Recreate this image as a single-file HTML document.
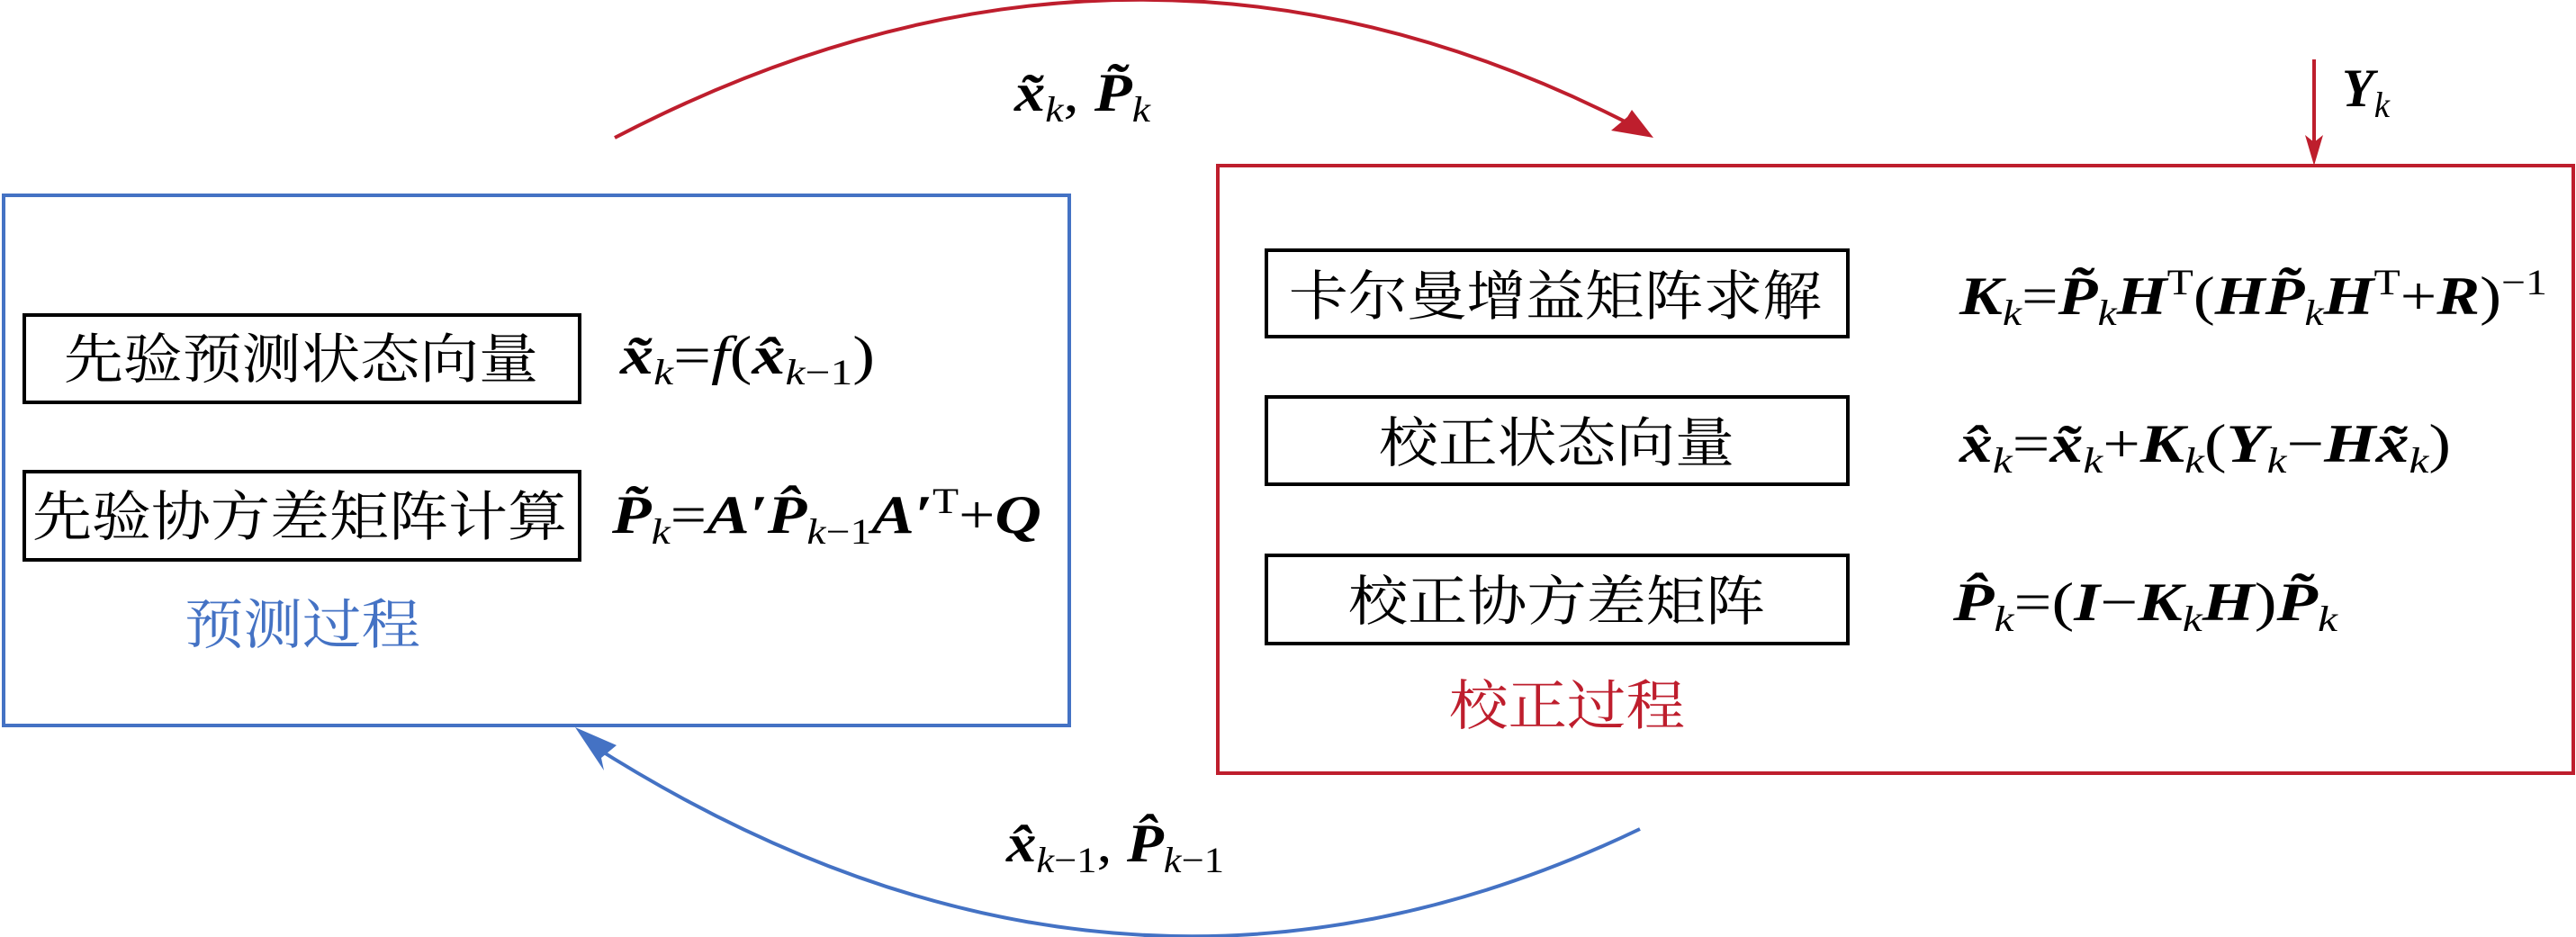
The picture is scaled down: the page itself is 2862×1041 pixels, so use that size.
<!DOCTYPE html>
<html><head><meta charset="utf-8"><style>
html,body{margin:0;padding:0;background:#fff;}
svg{display:block;}
.cn{font-family:"Liberation Serif","Noto Serif CJK SC",serif;font-size:60px;}
.m{font-family:"Liberation Serif","Noto Serif CJK SC",serif;font-size:60px;}
.b{font-weight:bold;font-style:italic;}
.i{font-style:italic;}
</style></head><body>
<svg width="2862" height="1041" viewBox="0 0 2862 1041" xmlns="http://www.w3.org/2000/svg">
<defs>
<marker id="ar" viewBox="0 0 10 10" refX="9" refY="5" markerWidth="6" markerHeight="6" orient="auto" markerUnits="userSpaceOnUse" style="overflow:visible">
</marker>
</defs>
<!-- boxes -->
<rect x="4" y="217" width="1184" height="589" fill="none" stroke="#4472c4" stroke-width="4"/>
<rect x="1353" y="184" width="1506" height="675" fill="none" stroke="#be1e2d" stroke-width="4"/>
<rect x="27" y="350" width="617" height="97" fill="none" stroke="#000" stroke-width="4"/>
<rect x="27" y="524" width="617" height="98" fill="none" stroke="#000" stroke-width="4"/>
<rect x="1407" y="278" width="646" height="96" fill="none" stroke="#000" stroke-width="4"/>
<rect x="1407" y="441" width="646" height="97" fill="none" stroke="#000" stroke-width="4"/>
<rect x="1407" y="617" width="646" height="98" fill="none" stroke="#000" stroke-width="4"/>
<!-- arcs -->
<path d="M683,153 Q1259,-147 1815,140" fill="none" stroke="#be1e2d" stroke-width="4"/>
<polygon points="1837,153 1790,145 1808,130 1813,122" fill="#be1e2d"/>
<path d="M1822,921 Q1240,1200 655,826" fill="none" stroke="#4472c4" stroke-width="4"/>
<polygon points="639,808 685,828 668,842 671,856" fill="#4472c4"/>
<line x1="2571" y1="66" x2="2571" y2="160" stroke="#be1e2d" stroke-width="4"/>
<polygon points="2571,184 2561,150 2571,158 2581,150" fill="#be1e2d"/>
<!-- chinese text -->
<text class="cn" x="71" y="420" textLength="527" lengthAdjust="spacingAndGlyphs">先验预测状态向量</text>
<text class="cn" x="36" y="595" textLength="594" lengthAdjust="spacingAndGlyphs">先验协方差矩阵计算</text>
<text class="cn" x="205" y="715" textLength="262" lengthAdjust="spacingAndGlyphs" fill="#4472c4">预测过程</text>
<text class="cn" x="1432" y="350" textLength="592" lengthAdjust="spacingAndGlyphs">卡尔曼增益矩阵求解</text>
<text class="cn" x="1532" y="513" textLength="395" lengthAdjust="spacingAndGlyphs">校正状态向量</text>
<text class="cn" x="1498" y="689" textLength="463" lengthAdjust="spacingAndGlyphs">校正协方差矩阵</text>
<text class="cn" x="1610" y="805" textLength="262" lengthAdjust="spacingAndGlyphs" fill="#be1e2d">校正过程</text>
<!-- formulas -->
<text class="m" x="689" y="415" textLength="283" lengthAdjust="spacingAndGlyphs"><tspan class="b">x̃</tspan><tspan class="i" font-size="40" dy="12">k</tspan><tspan dy="-12">=</tspan><tspan class="i">f</tspan>(<tspan class="b">x̂</tspan><tspan font-size="40" dy="12"><tspan class="i">k</tspan>−1</tspan><tspan dy="-12">)</tspan></text>
<text class="m" x="680" y="592" textLength="477" lengthAdjust="spacingAndGlyphs"><tspan class="b">P̃</tspan><tspan class="i" font-size="40" dy="12">k</tspan><tspan dy="-12">=</tspan><tspan class="b">A′P̂</tspan><tspan font-size="40" dy="12"><tspan class="i">k</tspan>−1</tspan><tspan class="b" dy="-12">A′</tspan><tspan font-size="40" dy="-22">T</tspan><tspan dy="22">+</tspan><tspan class="b">Q</tspan></text>
<text class="m" x="1127" y="123" textLength="151" lengthAdjust="spacingAndGlyphs"><tspan class="b">x̃</tspan><tspan class="i" font-size="40" dy="12">k</tspan><tspan dy="-12">, </tspan><tspan class="b">P̃</tspan><tspan class="i" font-size="40" dy="12">k</tspan></text>
<text class="m" x="1118" y="957" textLength="242" lengthAdjust="spacingAndGlyphs"><tspan class="b">x̂</tspan><tspan font-size="40" dy="12"><tspan class="i">k</tspan>−1</tspan><tspan dy="-12">, </tspan><tspan class="b">P̂</tspan><tspan font-size="40" dy="12"><tspan class="i">k</tspan>−1</tspan></text>
<text class="m" x="2602" y="118" textLength="53" lengthAdjust="spacingAndGlyphs"><tspan class="b">Y</tspan><tspan class="i" font-size="40" dy="12">k</tspan></text>
<text class="m" x="2177" y="349" textLength="653" lengthAdjust="spacingAndGlyphs"><tspan class="b">K</tspan><tspan class="i" font-size="40" dy="12">k</tspan><tspan dy="-12">=</tspan><tspan class="b">P̃</tspan><tspan class="i" font-size="40" dy="12">k</tspan><tspan class="b" dy="-12">H</tspan><tspan font-size="40" dy="-22">T</tspan><tspan dy="22">(</tspan><tspan class="b">HP̃</tspan><tspan class="i" font-size="40" dy="12">k</tspan><tspan class="b" dy="-12">H</tspan><tspan font-size="40" dy="-22">T</tspan><tspan dy="22">+</tspan><tspan class="b">R</tspan>)<tspan font-size="40" dy="-22">−1</tspan></text>
<text class="m" x="2177" y="513" textLength="546" lengthAdjust="spacingAndGlyphs"><tspan class="b">x̂</tspan><tspan class="i" font-size="40" dy="12">k</tspan><tspan dy="-12">=</tspan><tspan class="b">x̃</tspan><tspan class="i" font-size="40" dy="12">k</tspan><tspan dy="-12">+</tspan><tspan class="b">K</tspan><tspan class="i" font-size="40" dy="12">k</tspan><tspan dy="-12">(</tspan><tspan class="b">Y</tspan><tspan class="i" font-size="40" dy="12">k</tspan><tspan dy="-12">−</tspan><tspan class="b">Hx̃</tspan><tspan class="i" font-size="40" dy="12">k</tspan><tspan dy="-12">)</tspan></text>
<text class="m" x="2170" y="689" textLength="427" lengthAdjust="spacingAndGlyphs"><tspan class="b">P̂</tspan><tspan class="i" font-size="40" dy="12">k</tspan><tspan dy="-12">=(</tspan><tspan class="b">I</tspan>−<tspan class="b">K</tspan><tspan class="i" font-size="40" dy="12">k</tspan><tspan class="b" dy="-12">H</tspan>)<tspan class="b">P̃</tspan><tspan class="i" font-size="40" dy="12">k</tspan></text>
</svg>
</body></html>
